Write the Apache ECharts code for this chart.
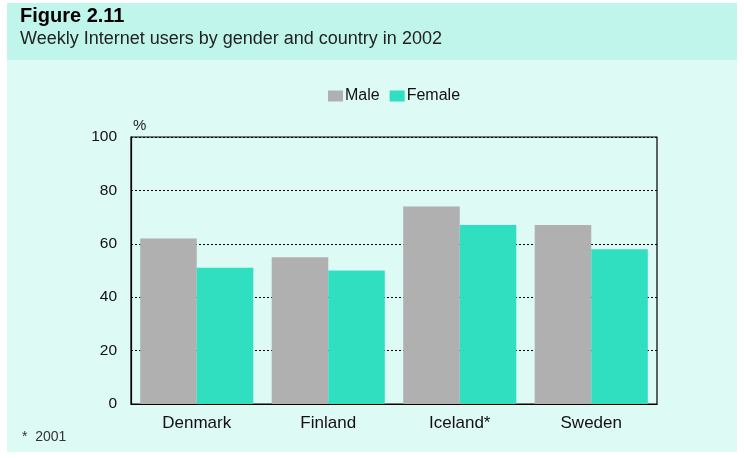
<!DOCTYPE html>
<html><head><meta charset="utf-8">
<script src="https://cdn.jsdelivr.net/npm/echarts@6/dist/echarts.min.js"></script>
<style>html,body{margin:0;padding:0;background:#fff}#c{width:744px;height:458px}</style>
</head><body><div id="c"></div>
<script>
const categories = ['Denmark', 'Finland', 'Iceland*', 'Sweden'];
const male = [62, 55, 74, 67];
const female = [51, 50, 67, 58];
const yTicks = [0, 20, 40, 60, 80, 100];

const chart = echarts.init(document.getElementById('c'), null, {renderer: 'canvas'});
const font = '"Liberation Sans", Arial, sans-serif';
chart.setOption({
  backgroundColor: '#ffffff',
  animation: false,
  graphic: [
    {type: 'rect', shape: {x: 7, y: 3, width: 730, height: 57}, style: {fill: '#c0f5ec'}, z: -10},
    {type: 'rect', shape: {x: 7, y: 60, width: 730, height: 392}, style: {fill: '#defaf5'}, z: -10},
    {type: 'text', left: 20, top: 6, style: {text: 'Figure 2.11', fontFamily: font, fontWeight: 'bold', fontSize: 20, fill: '#000'}},
    {type: 'text', left: 20, top: 30, style: {text: 'Weekly Internet users by gender and country in 2002', fontFamily: font, fontSize: 18, fill: '#222'}},
    {type: 'text', left: 133, top: 118, style: {text: '%', fontFamily: font, fontSize: 15, fill: '#222'}},
    {type: 'text', left: 22, top: 430, style: {text: '*  2001', fontFamily: font, fontSize: 14, fill: '#333'}}
  ],
  legend: {
    top: 83, left: 323,
    itemWidth: 15, itemHeight: 11, itemGap: 10,
    icon: 'rect',
    textStyle: {fontFamily: font, fontSize: 16, color: '#111', padding: [0, 0, 0, -3]},
    data: ['Male', 'Female']
  },
  grid: {left: 131, top: 137, right: 87, bottom: 54, show: true, borderColor: '#000', borderWidth: 1.2, backgroundColor: 'transparent'},
  xAxis: {
    type: 'category', data: categories,
    axisLine: {lineStyle: {color: '#000', width: 1.2}},
    axisTick: {show: false},
    axisLabel: {fontFamily: font, fontSize: 17, color: '#111', margin: 11}
  },
  yAxis: {
    type: 'value', min: 0, max: 100, interval: 20,
    axisLine: {show: true, lineStyle: {color: '#000', width: 1.2}},
    axisTick: {show: false},
    axisLabel: {fontFamily: font, fontSize: 15.5, color: '#111', margin: 14,
      formatter: v => yTicks.includes(v) ? String(v) : ''},
    splitLine: {lineStyle: {color: '#000', type: [2, 2], width: 1}}
  },
  series: [
    {name: 'Male', type: 'bar', data: male, barGap: '0%', barCategoryGap: '14%', itemStyle: {color: '#b0b0b0'}},
    {name: 'Female', type: 'bar', data: female, itemStyle: {color: '#30dfc0'}}
  ]
});
</script></body></html>
